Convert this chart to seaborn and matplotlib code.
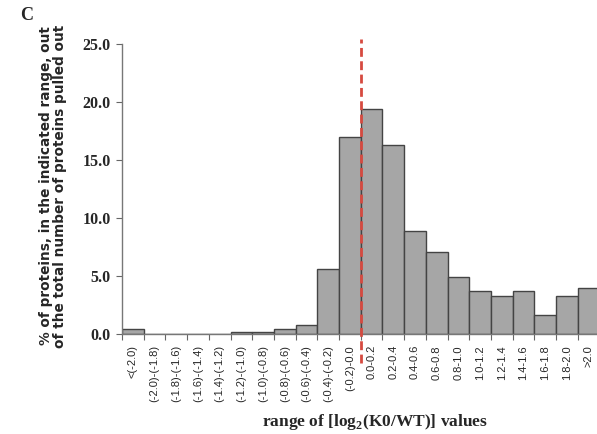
import matplotlib
matplotlib.use("Agg")
import matplotlib.pyplot as plt
import seaborn as sns
import pandas as pd
import numpy as np

categories = ["<(-2.0)", "(-2.0)-(-1.8)", "(-1.8)-(-1.6)", "(-1.6)-(-1.4)", "(-1.4)-(-1.2)",
              "(-1.2)-(-1.0)", "(-1.0)-(-0.8)", "(-0.8)-(-0.6)", "(-0.6)-(-0.4)", "(-0.4)-(-0.2)",
              "(-0.2)-0.0", "0.0-0.2", "0.2-0.4", "0.4-0.6", "0.6-0.8", "0.8-1.0",
              "1.0-1.2", "1.2-1.4", "1.4-1.6", "1.6-1.8", "1.8-2.0", ">2.0"]
percent = [0.4, 0.0, 0.0, 0.0, 0.0, 0.2, 0.2, 0.4, 0.8, 5.6,
           17.0, 19.4, 16.3, 8.9, 7.1, 4.9, 3.7, 3.3, 3.7, 1.6, 3.3, 4.0]
yticks = [0.0, 5.0, 10.0, 15.0, 20.0, 25.0]

df = pd.DataFrame({"range": categories, "pct": percent})

sns.set_style("white")
fig = plt.figure(figsize=(5.97, 4.34), dpi=100)
ax = fig.add_axes([122/597, 1-334/434, (599.5-122)/597, (334-44)/434])

sns.barplot(data=df, x="range", y="pct", color="#a6a6a6", saturation=1,
            width=1.0, edgecolor="#444444", linewidth=1.0, ax=ax)

ax.set_xlim(-0.5, len(categories) - 0.5)
ax.set_ylim(0, 25)
ax.set_yticks(yticks)
ax.set_yticklabels([f"{v:.1f}" for v in yticks], fontfamily="Liberation Serif",
                   fontweight="bold", fontsize=11.5)
ax.set_xticks(range(len(categories)))
ax.set_xticklabels(categories, rotation=90, fontfamily="Liberation Sans", fontsize=8)
ax.set_xticks(np.arange(-0.5, len(categories)), minor=True)
ax.tick_params(axis="x", which="major", length=0, pad=8)
ax.tick_params(axis="x", which="minor", length=4, width=0.8, color="#666666", direction="out", bottom=True)
ax.tick_params(axis="y", length=4, width=0.8, color="#666666", direction="out", left=True, pad=4)

for s in ["top", "right"]:
    ax.spines[s].set_visible(False)
for s in ["left", "bottom"]:
    ax.spines[s].set_color("#777777")
    ax.spines[s].set_linewidth(1.0)

ax.set_xlabel("range of [log$_\\mathregular{2}$(K0/WT)] values", fontfamily="Liberation Serif",
              fontweight="bold", fontsize=12.5)
ax.xaxis.set_label_coords((375.5 - 122) / 477.5, -(422 - 334) / 290, transform=ax.transAxes)
ax.xaxis.label.set_va("center")
ax.set_ylabel("% of proteins, in the indicated range, out\nof the total number of proteins pulled out",
              fontfamily="DejaVu Sans", fontweight="bold", fontsize=9.8,
              linespacing=1.05)
ax.yaxis.set_label_coords(-(122 - 53) / 477.5, (334 - 186) / 290, transform=ax.transAxes)
ax.yaxis.label.set_va("center")

ax.plot([10.5, 10.5], [-2.5, 25.4], color="#d64a40", linestyle=(0, (3.2, 1.6)),
        linewidth=2.0, clip_on=False, zorder=5)

fig.text(20/597, 1-16/434, "C", fontfamily="Liberation Serif", fontweight="bold",
         fontsize=13, ha="left", va="center")

fig.savefig("out.png", dpi=100)
